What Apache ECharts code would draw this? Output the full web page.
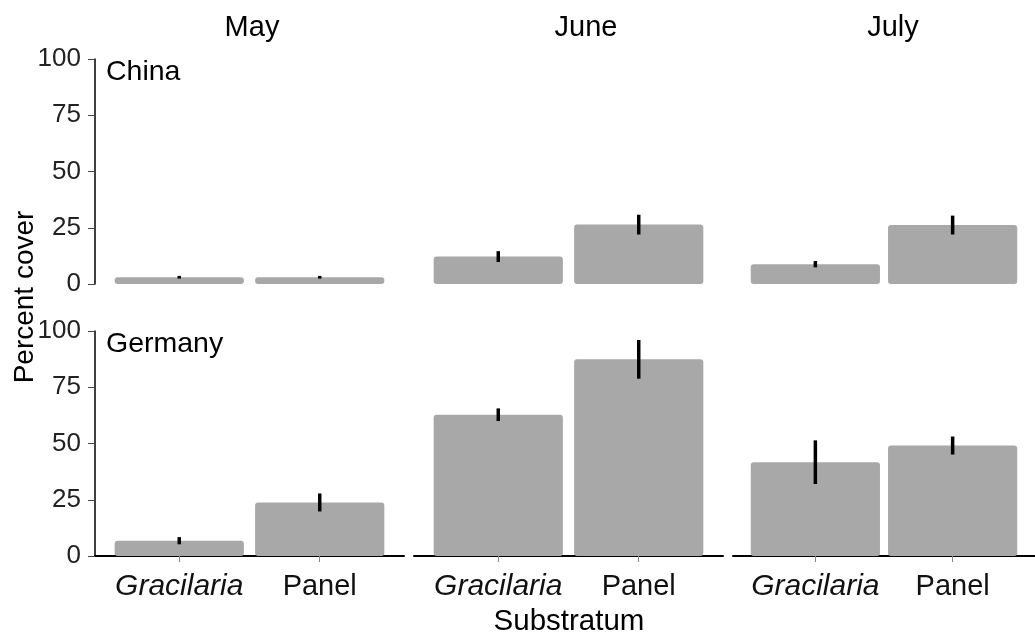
<!DOCTYPE html>
<html>
<head>
<meta charset="utf-8">
<script src="https://cdn.jsdelivr.net/npm/echarts@6/dist/echarts.min.js"></script>
<style>html,body{margin:0;padding:0;background:#fff}#c{width:1035px;height:642px}</style>
</head>
<body>
<div id="c"></div>
<script>
// ---- data ----
const months = ['May', 'June', 'July'];
const substrata = ['Gracilaria', 'Panel'];
const regions = ['China', 'Germany'];
const yTicks = [0, 25, 50, 75, 100];

const chinaMeanGracilaria = [3.0, 12.2, 8.8];
const chinaMeanPanel      = [3.0, 26.4, 26.2];
const chinaSeGracilaria   = [0.6, 2.4, 1.4];
const chinaSePanel        = [0.6, 4.4, 4.2];

const germanyMeanGracilaria = [6.8, 62.8, 41.7];
const germanyMeanPanel      = [23.8, 87.4, 49.1];
const germanySeGracilaria   = [1.6, 2.8, 9.7];
const germanySePanel        = [4.0, 8.6, 4.0];

const means = { China: [chinaMeanGracilaria, chinaMeanPanel], Germany: [germanyMeanGracilaria, germanyMeanPanel] };
const ses   = { China: [chinaSeGracilaria, chinaSePanel],     Germany: [germanySeGracilaria, germanySePanel] };

// ---- layout ----
const FONT = 'Liberation Sans, Arial, sans-serif';
const colLeft = [95, 414, 733];
const colWidth = 309;
const rowTop = [59, 331];
const rowHeight = 225;
const X_MIN = 0.4, X_MAX = 2.6;
const BAR_UNITS = 0.92;
const barPx = colWidth * BAR_UNITS / (X_MAX - X_MIN);

const grids = [], xAxes = [], yAxes = [], series = [];
let gi = 0;
regions.forEach((reg, r) => {
  months.forEach((m, c) => {
    grids.push({ left: colLeft[c], top: rowTop[r], width: colWidth, height: rowHeight, containLabel: false });
    const bottomRow = r === 1;
    xAxes.push({
      gridIndex: gi, type: 'value', min: X_MIN, max: X_MAX,
      show: bottomRow,
      splitLine: { show: false },
      axisLine: { show: bottomRow, onZero: false, lineStyle: { color: '#000', width: 2 } },
      axisTick: { show: bottomRow, customValues: [1, 2], length: 6, lineStyle: { color: '#888', width: 1 } },
      axisLabel: {
        show: bottomRow, customValues: [1, 2], margin: 16,
        formatter: v => (v === 1 ? '{i|' + substrata[0] + '}' : '{n|' + substrata[1] + '}'),
        rich: {
          i: { fontStyle: 'italic', fontSize: 30, fontFamily: FONT, color: '#111' },
          n: { fontSize: 29, fontFamily: FONT, color: '#111' }
        }
      }
    });
    const firstCol = c === 0;
    yAxes.push({
      gridIndex: gi, type: 'value', min: 0, max: 100, interval: 25,
      show: firstCol,
      splitLine: { show: false },
      axisLine: { show: firstCol, lineStyle: { color: '#000', width: 1.5 } },
      axisTick: { show: firstCol, length: 7, lineStyle: { color: '#444', width: 1 } },
      axisLabel: { show: firstCol, fontSize: 26, fontFamily: FONT, color: '#222', margin: 14,
        customValues: yTicks }
    });
    const mean = [means[reg][0][c], means[reg][1][c]];
    const se = [ses[reg][0][c], ses[reg][1][c]];
    series.push({
      type: 'bar', xAxisIndex: gi, yAxisIndex: gi,
      barWidth: barPx,
      itemStyle: { color: '#a8a8a8', borderRadius: 3 },
      data: [[1, mean[0]], [2, mean[1]]],
      silent: true, animation: false
    });
    series.push({
      type: 'custom', xAxisIndex: gi, yAxisIndex: gi,
      data: [[1, mean[0] - se[0], mean[0] + se[0]], [2, mean[1] - se[1], mean[1] + se[1]]],
      renderItem: (params, api) => {
        const p0 = api.coord([api.value(0), api.value(1)]);
        const p1 = api.coord([api.value(0), api.value(2)]);
        return { type: 'line', shape: { x1: p0[0], y1: p0[1], x2: p1[0], y2: p1[1] },
          style: { stroke: '#000', lineWidth: 3.5 } };
      },
      z: 5, silent: true, animation: false
    });
    gi++;
  });
});

const txt = (text, x, y, size, extra) => Object.assign({
  type: 'text', x: x, y: y, silent: true,
  style: { text: text, fontSize: size, fontFamily: FONT, fill: '#000', align: 'center', verticalAlign: 'middle' }
}, extra || {});

const graphic = [
  txt(months[0], 252, 28, 29),
  txt(months[1], 586, 28, 29),
  txt(months[2], 893, 28, 29),
  { type: 'text', x: 106, y: 72, silent: true, style: { text: regions[0], fontSize: 28.5, fontFamily: FONT, fill: '#000', align: 'left', verticalAlign: 'middle' } },
  { type: 'text', x: 106, y: 344, silent: true, style: { text: regions[1], fontSize: 28.5, fontFamily: FONT, fill: '#000', align: 'left', verticalAlign: 'middle' } },
  txt('Substratum', 569, 622, 29.5),
  txt('Percent cover', 25, 297, 28, { rotation: Math.PI / 2 })
];

const chart = echarts.init(document.getElementById('c'), null, { renderer: 'canvas' });
chart.setOption({
  animation: false,
  backgroundColor: '#fff',
  grid: grids, xAxis: xAxes, yAxis: yAxes, series: series, graphic: graphic
});
</script>
</body>
</html>
